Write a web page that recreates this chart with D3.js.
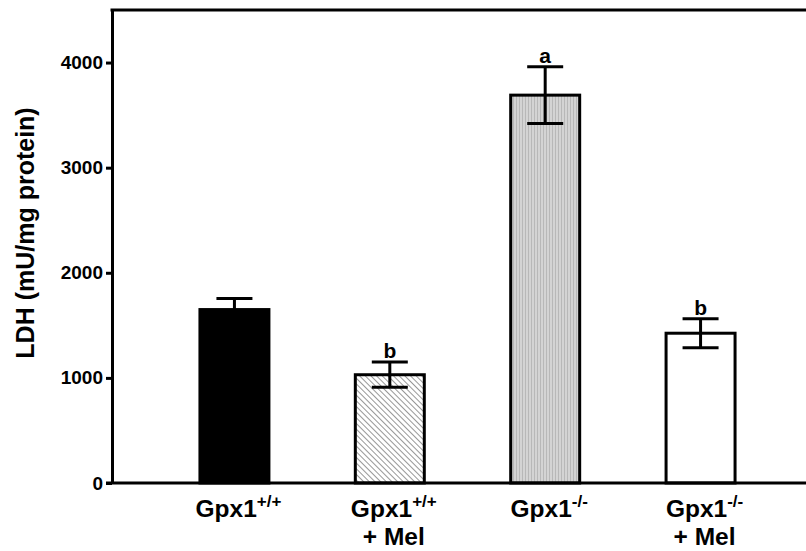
<!DOCTYPE html>
<html>
<head>
<meta charset="utf-8">
<script src="https://cdn.jsdelivr.net/npm/d3@7"></script>
<style>
  body { margin: 0; background: #fff; }
  svg { display: block; font-family: Arial, "Liberation Sans", sans-serif; font-weight: bold; }
</style>
</head>
<body>
<svg id="chart"></svg>
<script>
// data
const groups = ['wt', 'wtMel', 'ko', 'koMel'];
const labelSup = ['+/+', '+/+', '-/-', '-/-'];
const labelSecond = ['', '+ Mel', '', '+ Mel'];
const values = [1650, 1030, 3690, 1425];
const errors = [105, 120, 270, 138];
const letters = ['', 'b', 'a', 'b'];
const yTicks = [0, 1000, 2000, 3000, 4000];

const w = 806; // svg width
const h = 551; // svg height
const padLeft = 112; // y axis position
const padTop = 10; // top frame line
const axisY = 483; // x axis position

const fills = ['#000', 'url(#hatch)', 'url(#vlines)', '#fff'];

const svg = d3.select('#chart').attr('width', w).attr('height', h);

// patterns for the two textured bars
const defs = svg.append('defs');
const hatch = defs
  .append('pattern')
  .attr('id', 'hatch')
  .attr('patternUnits', 'userSpaceOnUse')
  .attr('width', 4)
  .attr('height', 4)
  .attr('patternTransform', 'rotate(-45)');
hatch.append('rect').attr('width', 4).attr('height', 4).attr('fill', '#fff');
hatch
  .append('line')
  .attr('x1', 0)
  .attr('y1', 0)
  .attr('x2', 0)
  .attr('y2', 4)
  .attr('stroke', '#6a6a6a')
  .attr('stroke-width', 1.4);

const vlines = defs
  .append('pattern')
  .attr('id', 'vlines')
  .attr('patternUnits', 'userSpaceOnUse')
  .attr('width', 3)
  .attr('height', 10);
vlines.append('rect').attr('width', 3).attr('height', 10).attr('fill', '#d4d4d4');
vlines
  .append('line')
  .attr('x1', 0.5)
  .attr('y1', 0)
  .attr('x2', 0.5)
  .attr('y2', 10)
  .attr('stroke', '#b8b8b8')
  .attr('stroke-width', 1);

const xScale = d3
  .scaleBand()
  .domain(groups)
  .range([padLeft, 823])
  .paddingInner(0.556)
  .paddingOuter(0.566);
const yScale = d3.scaleLinear().domain([0, 4500]).range([axisY, padTop]);

// bars
svg
  .selectAll('rect.bar')
  .data(groups)
  .enter()
  .append('rect')
  .attr('class', 'bar')
  .attr('x', (d) => xScale(d))
  .attr('y', (d, i) => yScale(values[i]))
  .attr('width', xScale.bandwidth())
  .attr('height', (d, i) => axisY - yScale(values[i]))
  .attr('fill', (d, i) => fills[i])
  .attr('stroke', '#000')
  .attr('stroke-width', 3);

// error bars
const capW = 36;
const err = svg
  .selectAll('g.err')
  .data(groups)
  .enter()
  .append('g')
  .attr('class', 'err')
  .attr('stroke', '#000')
  .attr('stroke-width', 3);
err
  .append('line')
  .attr('x1', (d) => xScale(d) + xScale.bandwidth() / 2)
  .attr('x2', (d) => xScale(d) + xScale.bandwidth() / 2)
  .attr('y1', (d, i) => yScale(values[i] - errors[i]))
  .attr('y2', (d, i) => yScale(values[i] + errors[i]));
[1, -1].forEach((sign) => {
  err
    .append('line')
    .attr('x1', (d) => xScale(d) + xScale.bandwidth() / 2 - capW / 2)
    .attr('x2', (d) => xScale(d) + xScale.bandwidth() / 2 + capW / 2)
    .attr('y1', (d, i) => yScale(values[i] + sign * errors[i]))
    .attr('y2', (d, i) => yScale(values[i] + sign * errors[i]));
});

// significance letters
svg
  .selectAll('text.sig')
  .data(groups)
  .enter()
  .append('text')
  .attr('class', 'sig')
  .attr('x', (d) => xScale(d) + xScale.bandwidth() / 2)
  .attr('y', (d, i) => yScale(values[i] + errors[i]) - 4)
  .attr('text-anchor', 'middle')
  .attr('font-size', 21)
  .text((d, i) => letters[i]);

// y axis
const yAxis = d3
  .axisLeft(yScale)
  .tickValues(yTicks)
  .tickFormat(d3.format('d'))
  .tickSize(6)
  .tickSizeOuter(0)
  .tickPadding(3);
const gy = svg
  .append('g')
  .attr('transform', 'translate(' + padLeft + ', 0)')
  .call(yAxis);
gy.attr('font-size', null).attr('font-family', null);
gy.select('.domain').attr('stroke-width', 3);
gy.selectAll('.tick line').attr('stroke-width', 3);
gy.selectAll('.tick text')
  .style('font-size', '19px')
  .style('font-weight', 'bold')
  .attr('fill', '#000');

// x axis line and top frame line
svg
  .append('line')
  .attr('x1', padLeft - 6)
  .attr('x2', w)
  .attr('y1', axisY)
  .attr('y2', axisY)
  .attr('stroke', '#000')
  .attr('stroke-width', 3);
svg
  .append('line')
  .attr('x1', padLeft - 1.5)
  .attr('x2', w)
  .attr('y1', padTop)
  .attr('y2', padTop)
  .attr('stroke', '#000')
  .attr('stroke-width', 3);

// group labels
const lab = svg
  .selectAll('text.lab')
  .data(groups)
  .enter()
  .append('text')
  .attr('class', 'lab')
  .attr('x', (d) => xScale(d) + xScale.bandwidth() / 2 + 4)
  .attr('y', 517)
  .attr('text-anchor', 'middle')
  .attr('font-size', 24.5);
lab.append('tspan').text('Gpx1');
lab
  .append('tspan')
  .attr('dy', -10)
  .attr('font-size', 17)
  .text((d, i) => labelSup[i]);
svg
  .selectAll('text.lab2')
  .data(groups)
  .enter()
  .append('text')
  .attr('class', 'lab2')
  .attr('x', (d) => xScale(d) + xScale.bandwidth() / 2 + 4)
  .attr('y', 545)
  .attr('text-anchor', 'middle')
  .attr('font-size', 24.5)
  .text((d, i) => labelSecond[i]);

// y axis title
svg
  .append('text')
  .attr('transform', 'translate(34, 233) rotate(-90)')
  .attr('text-anchor', 'middle')
  .attr('font-size', 25)
  .text('LDH (mU/mg protein)');
</script>
</body>
</html>
